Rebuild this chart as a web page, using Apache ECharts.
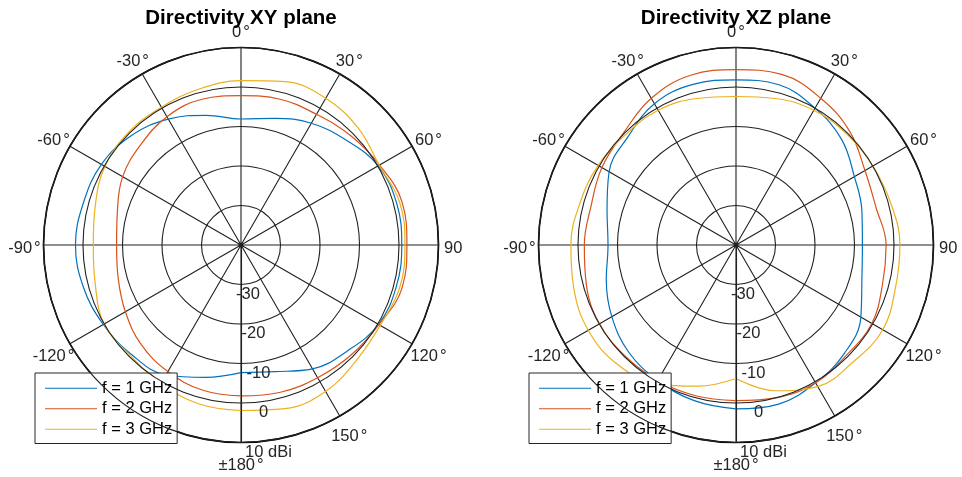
<!DOCTYPE html>
<html>
<head>
<meta charset="utf-8">
<script src="https://cdn.jsdelivr.net/npm/echarts@6/dist/echarts.min.js"></script>
<style>
html,body{margin:0;padding:0;background:#fff;}
#chart{width:962px;height:477px;}
</style>
</head>
<body>
<div id="chart"></div>
<script>
// Angles (degrees, 0 = top, clockwise positive)
const ANGLES = [-180,-165,-150,-135,-120,-105,-90,-75,-60,-45,-30,-15,0,15,30,45,60,75,90,105,120,135,150,165,180];
// Directivity in dBi, XY plane
const XY_1GHZ = [-7.7,-5.3,-2.0,-0.8,0.25,1.3,1.9,1.3,0.8,-0.8,-3.2,-6.0,-8.1,-6.8,-4.4,-2.4,0.1,0.8,0.7,0.7,0.2,-2.0,-3.8,-6.8,-7.7];
const XY_2GHZ = [-1.8,-2.0,-3.0,-4.3,-6.2,-7.8,-8.5,-7.6,-5.4,-4.1,-2.5,-1.8,-2.2,-1.8,-1.8,-0.8,0.5,2.2,2.0,2.2,0.3,-0.6,-1.2,-1.4,-1.8];
const XY_3GHZ = [1.9,1.6,0.5,-0.4,0.0,-1.8,-2.6,-1.8,-0.2,0.3,0.3,0.9,1.6,2.8,2.9,1.9,0.4,1.6,1.5,1.6,0.7,1.3,2.8,2.9,1.9];
// Directivity in dBi, XZ plane
const XZ_1GHZ = [1.5,0.8,-0.4,-1.6,-3.7,-6.0,-7.6,-6.2,-2.9,-1.3,1.3,2.1,1.8,2.0,0.0,-2.2,-5.4,-7.0,-8.0,-7.0,-3.5,-1.2,0.3,1.7,1.5];
const XZ_2GHZ = [-0.6,-0.5,-0.4,-0.25,-0.1,-0.8,-1.6,-2.0,-0.8,0.2,2.9,4.5,4.4,4.7,2.9,0.7,-2.3,-3.3,-2.0,-1.6,-0.3,-0.5,0.3,0.0,-0.6];
const XZ_3GHZ = [-6.2,-3.0,0.5,2.6,3.2,2.5,1.8,0.9,0.3,-0.5,-0.6,-1.6,-2.4,-1.6,-0.6,-0.3,0.0,0.6,1.5,1.8,2.9,1.9,1.4,-1.8,-6.2];

// Angle tick labels (degrees)
const ANGLE_TICKS = [-150,-120,-90,-60,-30,0,30,60,90,120,150,180];

const SERIES_NAMES = ['f = 1 GHz','f = 2 GHz','f = 3 GHz'];
const COLORS = ['#0072BD','#D95319','#EDB120'];
const TITLES = ['Directivity XY plane','Directivity XZ plane'];
const R_TICKS = {min:-40, max:10, step:10};
const A_TICKS = {min:-180, max:180, step:30};

const FONT = '"Liberation Sans", Arial, Helvetica, sans-serif';
const TXT = '#262626';
const GRID = '#202020';
const FS = 16.5;
const CENTERS = [[241,245],[736,245]];
const RADIUS = 197.5;
const LABEL_RADIUS = 216.5;

function pairs(vals){ return vals.map((v,i)=>[v, ANGLES[i]]); }

const chart = echarts.init(document.getElementById('chart'), null, {renderer:'canvas'});

// polar 0,1 : plots ; polar 2,3 : label rings for angle tick labels
const polar = CENTERS.map(c=>({center:c, radius:RADIUS}))
  .concat(CENTERS.map(c=>({center:c, radius:LABEL_RADIUS})));

// rich styles for radial labels (placed slightly off the 180 spoke like MATLAB)
const rRich = {};
for (let v=R_TICKS.min; v<=R_TICKS.max; v+=R_TICKS.step){
  const rpx = (v-R_TICKS.min)/(R_TICKS.max-R_TICKS.min)*RADIUS;
  rRich['r'+(v-R_TICKS.min)] = {padding:[1,0,0,Math.round(0.26*rpx)], fontSize:FS, fontFamily:FONT, color:TXT};
}

const angleAxis = [];
const radiusAxis = [];
CENTERS.forEach((c,i)=>{
  angleAxis.push({
    polarIndex:i, type:'value', min:A_TICKS.min, max:A_TICKS.max, interval:A_TICKS.step,
    startAngle:-90, clockwise:true,
    axisLine:{show:true, lineStyle:{color:'#000', width:1.7}},
    axisTick:{show:false},
    splitLine:{show:true, lineStyle:{color:GRID, width:1.1}},
    axisLabel:{show:false}
  });
  radiusAxis.push({
    polarIndex:i, type:'value', min:R_TICKS.min, max:R_TICKS.max, interval:R_TICKS.step,
    axisLine:{show:true, lineStyle:{color:GRID, width:1.1}},
    axisTick:{show:false},
    splitLine:{show:true, lineStyle:{color:GRID, width:1.1}},
    axisLabel:{
      show:true, color:TXT, fontSize:FS, fontFamily:FONT, margin:2,
      align:'center', verticalAlign:'top', rich:rRich,
      formatter:function(v){
        if (v===R_TICKS.min) return '';
        const key = 'r'+(v-R_TICKS.min);
        return '{'+key+'|'+(v===R_TICKS.max ? v+' dBi' : v)+'}';
      }
    },
    z:5
  });
});
CENTERS.forEach((c,i)=>{
  angleAxis.push({polarIndex:2+i, type:'value', min:A_TICKS.min, max:A_TICKS.max,
    startAngle:-90, clockwise:true, show:false});
  radiusAxis.push({polarIndex:2+i, type:'value', min:R_TICKS.min, max:R_TICKS.max, show:false});
});

const planes = [[XY_1GHZ,XY_2GHZ,XY_3GHZ],[XZ_1GHZ,XZ_2GHZ,XZ_3GHZ]];
const series = [];
planes.forEach((arrs,pi)=>{
  arrs.forEach((vals,si)=>{
    series.push({
      name:SERIES_NAMES[si], type:'line', coordinateSystem:'polar', polarIndex:pi,
      data:pairs(vals), smooth:0.4, symbol:'none', showSymbol:false,
      lineStyle:{color:COLORS[si], width:1.2}, itemStyle:{color:COLORS[si]},
      z:3, animation:false
    });
  });
});

function angleLabel(a){
  if (a===180) return '\u00b1180{d|\u00b0}';
  if (a===90) return '90{h|\u00b0}';
  return a+'{d|\u00b0}';
}
CENTERS.forEach((c,i)=>{
  series.push({
    name:'angle labels '+i, type:'scatter', coordinateSystem:'polar', polarIndex:2+i,
    data:ANGLE_TICKS.map(a=>[R_TICKS.max, a]),
    symbolSize:0, silent:true, z:2, animation:false,
    itemStyle:{color:'rgba(0,0,0,0)', opacity:1},
    label:{
      show:true, position:'inside', offset:[0,3.5], color:TXT, opacity:1,
      fontSize:FS, fontFamily:FONT,
      textBorderWidth:0,
      formatter:function(p){ return angleLabel(p.value[1]); },
      rich:{
        d:{padding:[0,0,0,2], fontSize:FS, fontFamily:FONT, color:TXT},
        h:{padding:[0,0,0,2], fontSize:FS, fontFamily:FONT, color:'rgba(0,0,0,0)'}
      }
    }
  });
});

const title = CENTERS.map((c,i)=>({
  text:TITLES[i], left:c[0], top:8, padding:0, textAlign:'center',
  textStyle:{fontFamily:FONT, fontSize:20.5, fontWeight:'bold', color:'#000'}
}));

const legend = CENTERS.map((c,i)=>({
  data:SERIES_NAMES, orient:'vertical',
  left:(i===0?35:529), top:373,
  itemWidth:52, itemHeight:14, itemGap:3.5,
  icon:'path://M0,0H52V1H0Z',
  padding:[6.75,5,5.75,10],
  backgroundColor:'#fff', borderColor:TXT, borderWidth:1,
  textStyle:{fontFamily:FONT, fontSize:FS, color:'#000'},
  selectedMode:false
}));

chart.setOption({
  animation:false,
  backgroundColor:'#fff',
  title:title,
  legend:legend,
  polar:polar,
  angleAxis:angleAxis,
  radiusAxis:radiusAxis,
  series:series
});
</script>
</body>
</html>
